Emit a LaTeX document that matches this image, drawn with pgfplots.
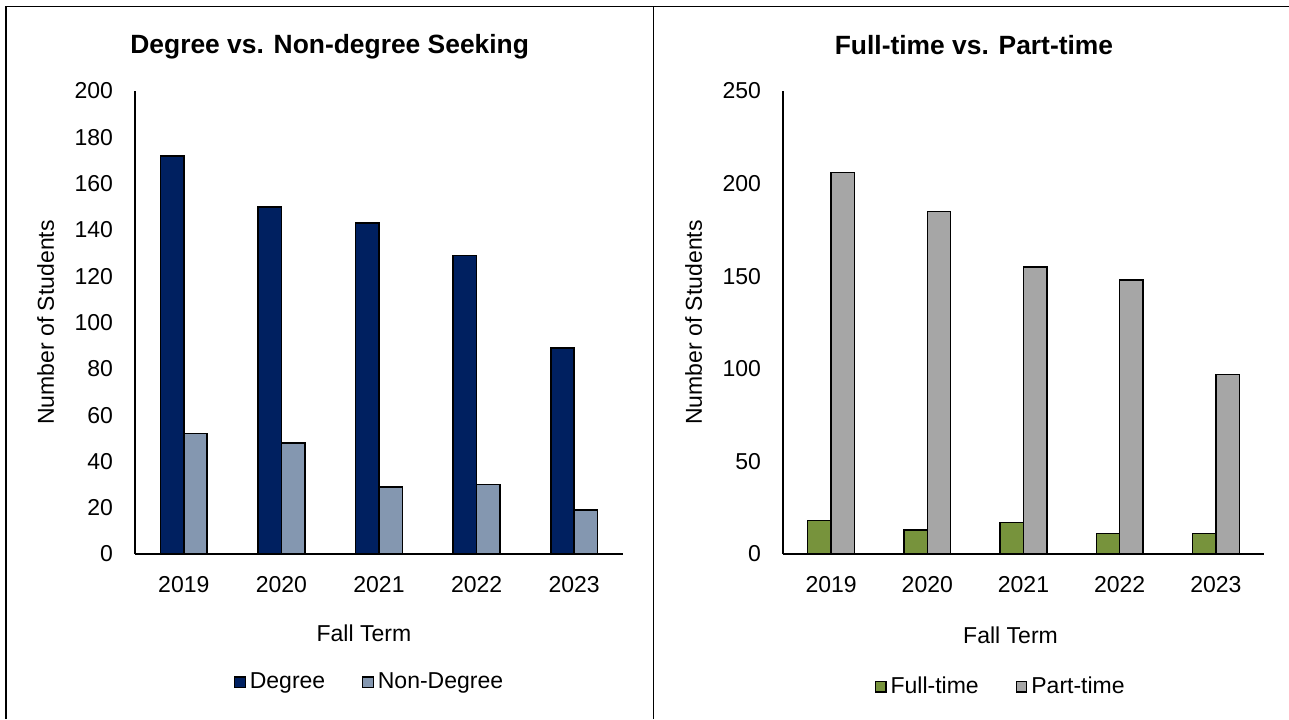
\documentclass[border=0pt]{standalone}
\usepackage{fontspec}
\setmainfont{Liberation Sans}
\usepackage{pgfplots}
\pgfplotsset{compat=1.18}
\definecolor{navy}{HTML}{002060}
\definecolor{slate}{HTML}{8497B0}
\definecolor{olive}{HTML}{77933C}
\definecolor{midgray}{HTML}{A6A6A6}

\pgfplotsset{
  panel/.style={
    scale only axis, anchor=south west,
    axis lines=left,
    axis line style={line width=0.75pt, black, -},
    major tick length=0pt,
    ybar=0pt, bar width=11.7pt,
    xmin=-0.5, xmax=4.5, ymin=0,
    xtick={0,1,2,3,4},
    xticklabels={2019,2020,2021,2022,2023},
    tick label style={font=\fontsize{11.5}{13}\selectfont},
    /pgf/number format/assume math mode=true,
    y tick label style={inner sep=0pt, anchor=east, xshift=-10.8pt},
    x tick label style={inner sep=0pt, anchor=north, yshift=-10.8pt},
    label style={font=\fontsize{11.5}{13}\selectfont},
    every axis title shift=0pt,
    title style={font=\bfseries\fontsize{13.2}{15}\selectfont, anchor=center, yshift=0pt},
    ylabel={Number of Students},
    xlabel={Fall Term},
    legend columns=2,
    legend style={draw=none, fill=none, anchor=center,
      font=\fontsize{11.5}{13}\selectfont, inner sep=0pt,
      /tikz/every even column/.append style={column sep=16.5pt}},
    legend image code/.code={\draw[#1, line width=0.6pt] (0pt,-2.6pt) rectangle (5.2pt,2.6pt);},
    every axis plot/.append style={draw=black, line width=0.75pt},
    clip=false,
  }
}

\begin{document}
\begin{tikzpicture}
\useasboundingbox (0,0) rectangle (644.5pt,359.5pt);
\draw[line width=0.75pt] (3pt,0) -- (3pt,356.25pt) -- (644.5pt,356.25pt);
\draw[line width=0.75pt] (326.8pt,0) -- (326.8pt,356.25pt);

\begin{axis}[panel,
  at={(67.5pt,82.5pt)}, width=244pt, height=231.5pt,
  ymax=200, ytick={0,20,...,200},
  title={Degree vs. Non-degree Seeking},
  title style={at={(axis description cs:0.399,1.095)}},
  ylabel style={at={(axis description cs:-0.183,0.5)}, anchor=center},
  xlabel style={at={(axis description cs:0.469,-0.171)}, anchor=center},
  legend style={at={(axis description cs:0.483,-0.277)}},
]
\addplot[fill=navy] coordinates {(0,172) (1,150) (2,143) (3,129) (4,89)};
\addplot[fill=slate] coordinates {(0,52) (1,48) (2,29) (3,30) (4,19)};
\legend{Degree, Non-Degree}
\end{axis}

\begin{axis}[panel,
  at={(391.5pt,82.5pt)}, width=240.5pt, height=231.5pt,
  ymax=250, ytick={0,50,...,250},
  title={Full-time vs. Part-time},
  title style={at={(axis description cs:0.397,1.099)}},
  ylabel style={at={(axis description cs:-0.186,0.5)}, anchor=center},
  xlabel style={at={(axis description cs:0.473,-0.175)}, anchor=center},
  legend style={at={(axis description cs:0.455,-0.287)}},
]
\addplot[fill=olive] coordinates {(0,18) (1,13) (2,17) (3,11) (4,11)};
\addplot[fill=midgray] coordinates {(0,206) (1,185) (2,155) (3,148) (4,97)};
\legend{Full-time, Part-time}
\end{axis}
\end{tikzpicture}
\end{document}
